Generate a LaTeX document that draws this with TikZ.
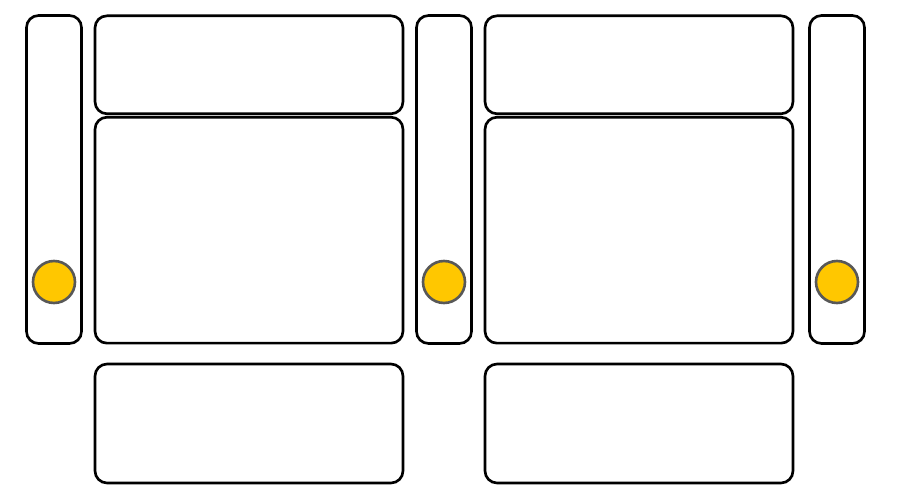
\documentclass[tikz,border=0pt]{standalone}
\usetikzlibrary{shapes.geometric}
\definecolor{seatyellow}{RGB}{255,199,0}
\definecolor{seatgrey}{RGB}{88,88,88}
\tikzstyle{panel} = [rectangle, rounded corners=6.8pt, draw=black, line width=1.5pt, fill=white, inner sep=0pt]
\tikzstyle{bar} = [panel, minimum width=1.1cm, minimum height=6.56cm]
\tikzstyle{topbox} = [panel, minimum width=6.16cm, minimum height=1.96cm]
\tikzstyle{midbox} = [panel, minimum width=6.16cm, minimum height=4.52cm]
\tikzstyle{lowbox} = [panel, minimum width=6.16cm, minimum height=2.38cm]
\tikzstyle{knob} = [circle, draw=seatgrey, fill=seatyellow, line width=1.5pt, minimum size=0.84cm, inner sep=0pt]

\begin{document}
\begin{tikzpicture}[x=0.02cm, y=-0.02cm]
\useasboundingbox (0,0) rectangle (900,497);

\node (bar1) [bar] at (54,179.5) {};
\node (bar2) [bar] at (444,179.5) {};
\node (bar3) [bar] at (837,179.5) {};

\node (top1) [topbox] at (249,64.8) {};
\node (mid1) [midbox] at (249,230.2) {};
\node (low1) [lowbox] at (249,423.5) {};

\node (top2) [topbox] at (639,64.8) {};
\node (mid2) [midbox] at (639,230.2) {};
\node (low2) [lowbox] at (639,423.5) {};

\node (knob1) [knob] at (54,282) {};
\node (knob2) [knob] at (444,282) {};
\node (knob3) [knob] at (837,282) {};

\end{tikzpicture}
\end{document}
